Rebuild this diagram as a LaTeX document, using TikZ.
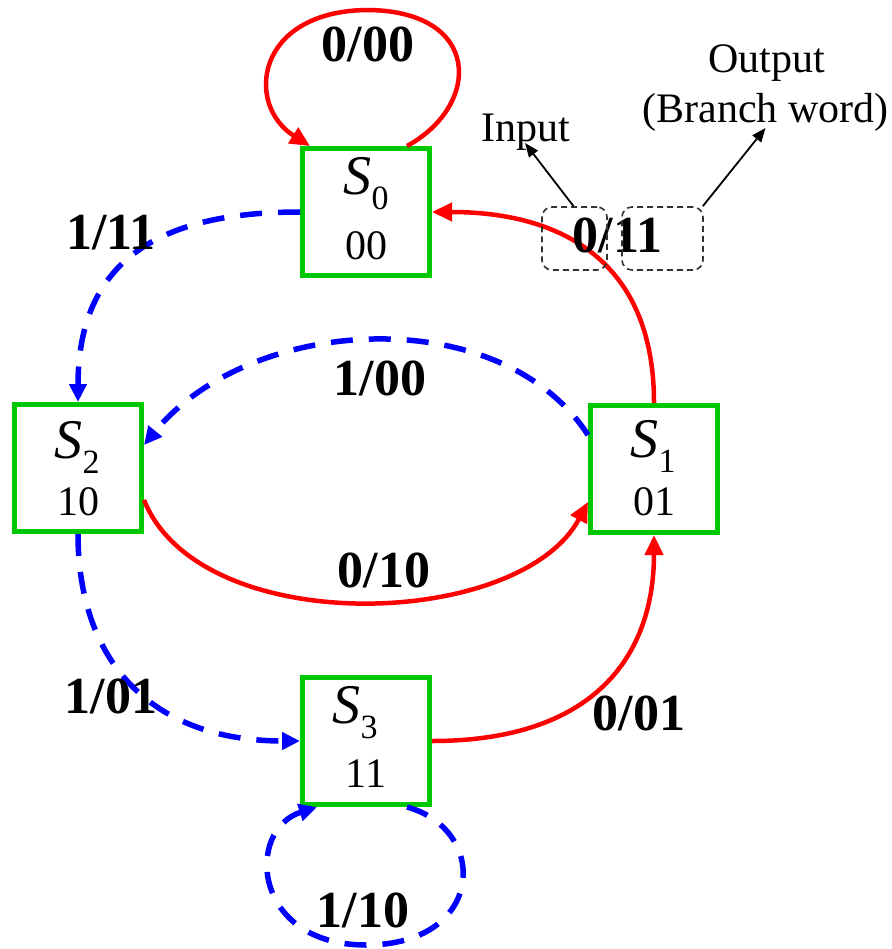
\documentclass[tikz,border=0pt]{standalone}
\usepackage{fontspec}
\setmainfont{Liberation Serif}
\usetikzlibrary{arrows.meta}
\definecolor{stgreen}{RGB}{0,200,0}
\definecolor{tred}{RGB}{255,0,0}
\definecolor{tblue}{RGB}{0,0,255}
\newcommand{\statename}[1]{{\fontsize{56}{56}\selectfont\itshape S}\raisebox{-15pt}{\fontsize{34}{34}\selectfont #1}}
\begin{document}
\begin{tikzpicture}[x=1pt,y=-1pt,
  statebox/.style={draw=stgreen, line width=5pt, minimum width=127pt, minimum height=127pt, inner sep=0pt},
  stcode/.style={anchor=base, inner sep=0pt, font=\fontsize{42}{42}\selectfont},
  stname/.style={anchor=base, inner sep=0pt},
  redarc/.style={draw=tred, line width=4.5pt, -{Triangle[length=20pt,width=18pt]}},
  bluearc/.style={draw=tblue, line width=5.5pt, dash pattern=on 22pt off 16pt, -{Triangle[length=18pt,width=17pt]}},
  lbl/.style={anchor=base, inner sep=0pt, font=\fontsize{52}{52}\selectfont\bfseries},
  note/.style={anchor=base, inner sep=0pt, font=\fontsize{42}{42}\selectfont},
  notebox/.style={draw=black!80, line width=1.6pt, dash pattern=on 6pt off 4pt, rounded corners=10pt, minimum height=63pt, inner sep=0pt},
  notearrow/.style={draw=black, line width=1.8pt, -{Triangle[length=14pt,width=11pt]}}]
\useasboundingbox (0,0) rectangle (891,949);

% states
\node[statebox] (s0) at (366,212) {};
\node[statebox] (s1) at (654,469) {};
\node[statebox] (s2) at (78,468) {};
\node[statebox] (s3) at (366,741) {};

\node[stname] (s0n) at (366,195) {\statename{0}};
\node[stcode] (s0c) at (366,260) {00};
\node[stname] (s1n) at (653,457) {\statename{1}};
\node[stcode] (s1c) at (654,515) {01};
\node[stname] (s2n) at (77,458) {\statename{2}};
\node[stcode] (s2c) at (78,515) {10};
\node[stname] (s3n) at (355,723) {\statename{3}};
\node[stcode] (s3c) at (366,787) {11};

% input 0 transitions (red, solid)
\draw[redarc] ([xshift=41pt]s0.north) .. controls (482,105) and (482,10) .. (366,10)
  .. controls (255,12) and (245,105) .. ([xshift=-56pt]s0.north);
\draw[redarc] (s1.north) .. controls (654,260) and (560,212) .. (s0.east);
\draw[redarc] ([yshift=-32pt]s2.east) .. controls (200,640) and (520,630) .. ([yshift=-33pt]s1.west);
\draw[redarc] (s3.east) .. controls (595,741) and (654,655) .. (s1.south);

% input 1 transitions (blue, dashed)
\draw[bluearc] (s0.west) .. controls (160,212) and (78,260) .. (s2.north);
\draw[bluearc] ([yshift=34pt]s1.west) .. controls (500,300) and (250,315) .. ([yshift=23pt]s2.east);
\draw[bluearc] (s2.south) .. controls (78,660) and (150,741) .. (s3.west);
\draw[bluearc] ([xshift=41pt]s3.south) .. controls (490,830) and (485,945) .. (366,945)
  .. controls (252,945) and (245,830) .. ([xshift=-49pt]s3.south);

% transition labels
\node[lbl] (l000) at (368,62) {0/00};
\node[lbl] (l111) at (111,250) {1/11};
\node[lbl] (l100) at (380,395) {1/00};
\node[lbl] (l010) at (384,587) {0/10};
\node[lbl] (l101) at (111,713) {1/01};
\node[lbl] (l001) at (639,730) {0/01};
\node[lbl] (l110) at (363,927) {1/10};
\node[lbl] (l011) at (617.5,253) {0/11};

% input / output annotation
\node[notebox, minimum width=65pt] (inbox) at (574.5,238.5) {};
\node[notebox, minimum width=81pt] (outbox) at (662.5,238.5) {};
\node[note] (intxt) at (526,142) {Input};
\node[note] (outtxt1) at (766.5,73) {Output};
\node[note] (outtxt2) at (765.5,123) {(Branch word)};
\draw[notearrow] ([xshift=-1pt]inbox.north) -- ([yshift=-1pt,xshift=-1pt]intxt.base);
\draw[notearrow] ([xshift=-1pt]outbox.north east) -- ([yshift=-5pt]outtxt2.base);
\end{tikzpicture}
\end{document}
